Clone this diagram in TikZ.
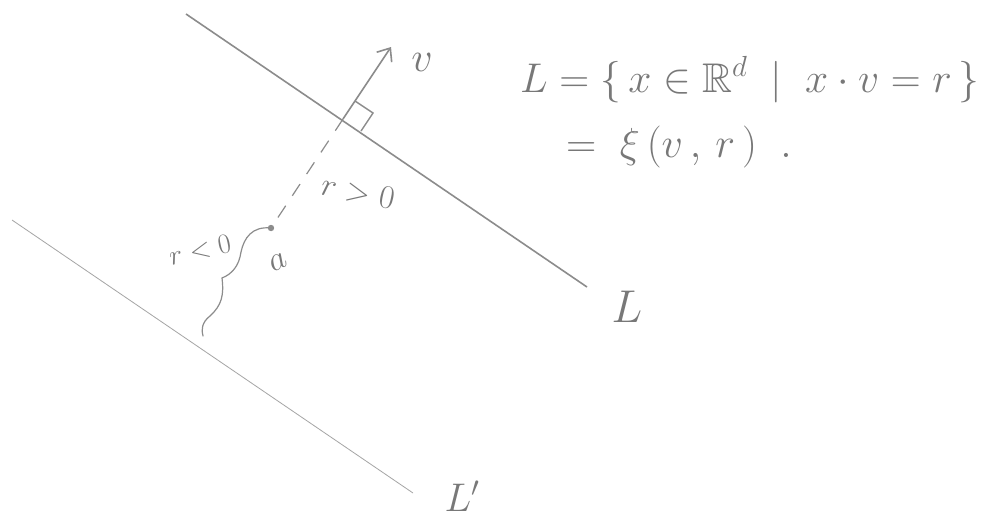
\RequirePackage{fix-cm}
\documentclass[tikz,border=0pt]{standalone}
\usepackage{amssymb}
\usetikzlibrary{arrows.meta,calc}
\definecolor{pencil}{RGB}{140,140,140}
\definecolor{pencilL}{RGB}{165,165,165}
\definecolor{ink}{RGB}{120,120,120}
\tikzset{
  lineL/.style={draw=pencil,line width=1.6pt},
  lineLp/.style={draw=pencilL,line width=0.8pt},
  vecarrow/.style={draw=pencil,line width=1.6pt,-{Straight Barb[length=11pt,width=18pt,line width=1.6pt]}},
  dashline/.style={draw=pencil,line width=1.2pt,dash pattern=on 14pt off 12pt},
  brace/.style={draw=pencil,line width=1.2pt,line cap=round},
  lbl/.style={text=ink,inner sep=0pt},
}
\begin{document}
\begin{tikzpicture}[x=1pt,y=-1pt]
\useasboundingbox[fill=white] (0,0) rectangle (995,520);
% lines
\coordinate (L1) at (186,14);
\coordinate (L2) at (587,287);
\coordinate (M1) at (12,220);
\coordinate (M2) at (413,493);
\draw[lineL] (L1) -- (L2);
\draw[lineLp] (M1) -- (M2);
% foot, normal vector
\coordinate (F) at (343,119);
\coordinate (T) at (391,47);
\coordinate (S1) at (361,131);
\coordinate (S3) at (355,101);
\coordinate (S2) at (373,113);
\draw[vecarrow] (F) -- (T);
\draw[draw=pencil,line width=1.4pt] (S3) -- (S2) -- (S1);
% dashed to a
\coordinate (A) at (271,228);
\draw[dashline] (F) -- (A);
\fill[pencil] (A) circle (3.2);
% wavy brace
\coordinate (B) at (203,336);
\draw[brace] (A) .. controls (252,226) and (244,238) .. (241,252)
  .. controls (239,266) and (232,274) .. (222,278)
  .. controls (224,295) and (222,305) .. (210,316)
  .. controls (202,322) and (201,330) .. (B);
% labels
\node[lbl,font=\fontsize{42}{46}\selectfont] (vl) at (422,62) {$v$};
\node[lbl,font=\fontsize{33}{38}\selectfont,rotate=-12] (rpos) at (358,192) {$r>0$};
\node[lbl,font=\fontsize{28}{32}\selectfont,rotate=12] (rneg) at (200,250) {$r<0$};
\node[lbl,font=\fontsize{34}{38}\selectfont,rotate=25] (al) at (278,262) {$a$};
\node[lbl,font=\fontsize{46}{50}\selectfont] (Ll) at (627,307) {$L$};
\node[lbl,font=\fontsize{40}{44}\selectfont] (Lp) at (462,496) {$L'$};
% formula
\node[lbl,font=\fontsize{41.5}{46}\selectfont,anchor=base west] (f1) at (520,92)
  {$L=\{\,x\in\mathbb{R}^d\;\mid\;x\cdot v=r\,\}$};
\node[lbl,font=\fontsize{42}{46}\selectfont,anchor=base west] (f2) at (566,157)
  {$=\;\xi\,(v\,,\,r\,)\;\;.$};
\end{tikzpicture}
\end{document}
